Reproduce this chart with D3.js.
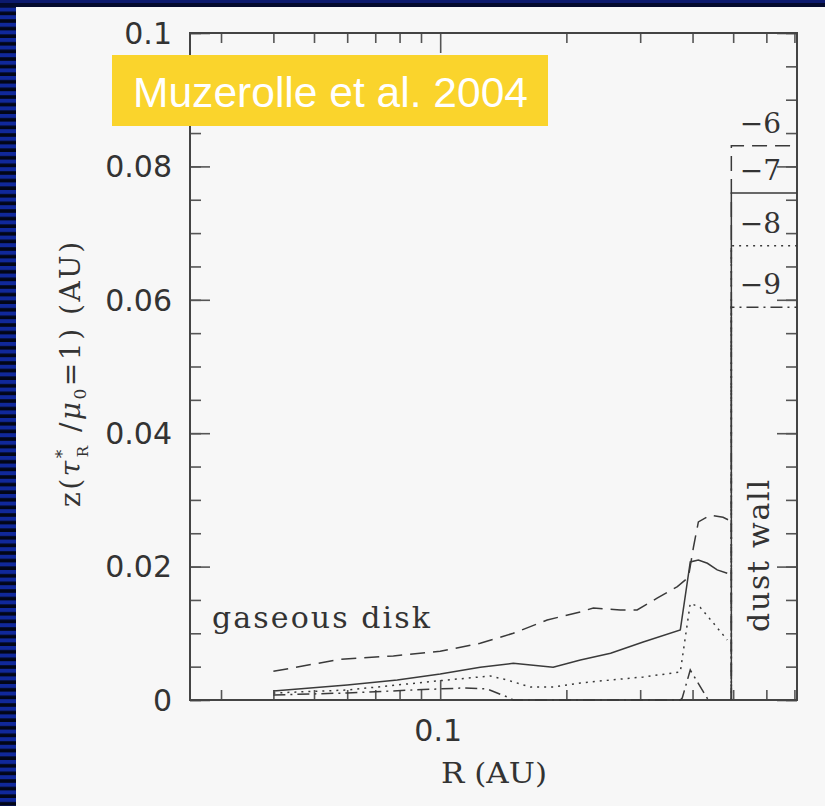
<!DOCTYPE html>
<html>
<head>
<meta charset="utf-8">
<script src="https://cdn.jsdelivr.net/npm/d3@7"></script>
<style>
  body { margin: 0; background: #f7f7f7; }
  svg { display: block; }
</style>
</head>
<body>
<svg id="chart"></svg>
<script>
// accretion rate labels (log Mdot) for each model
const models = ["\u22126", "\u22127", "\u22128", "\u22129"];
const dashes = ["15,8", null, "2,5", "12,5,2,5"];

// disk surface, one array of radii (AU) and heights (AU) per model
const r6 = [0.04, 0.0577, 0.0773, 0.1, 0.1246, 0.1494, 0.18, 0.216, 0.232, 0.269, 0.295, 0.33, 0.368, 0.391, 0.402, 0.413, 0.441, 0.473, 0.487];
const z6 = [0.0043, 0.0061, 0.0066, 0.0073, 0.0085, 0.0100, 0.0120, 0.0132, 0.0138, 0.0135, 0.0135, 0.0153, 0.0170, 0.0184, 0.0229, 0.0267, 0.0277, 0.0274, 0.0270];

const r7 = [0.04, 0.06, 0.079, 0.1, 0.1246, 0.1494, 0.186, 0.216, 0.255, 0.305, 0.374, 0.395, 0.413, 0.434, 0.458, 0.484];
const z7 = [0.00135, 0.00225, 0.0030, 0.0039, 0.0049, 0.0055, 0.0049, 0.0060, 0.0070, 0.0087, 0.0105, 0.0207, 0.0210, 0.0205, 0.0195, 0.0190];

const r8 = [0.04, 0.06, 0.1039, 0.1316, 0.1445, 0.164, 0.186, 0.216, 0.255, 0.305, 0.374, 0.395, 0.417, 0.449, 0.484];
const z8 = [0.00105, 0.0015, 0.0030, 0.0036, 0.0030, 0.00195, 0.00195, 0.00255, 0.0030, 0.00345, 0.0042, 0.0145, 0.0139, 0.0115, 0.0090];

const r9 = [0.04, 0.06, 0.0862, 0.1135, 0.1295, 0.1445, 0.1494, 0.374, 0.378, 0.395, 0.436];
const z9 = [0.00075, 0.00105, 0.0015, 0.0018, 0.00165, 0.00045, 0, 0, 0.0003, 0.0045, 0];

// dust wall
const rWall = 0.495;
const wallTop = [0.0831, 0.0760, 0.0681, 0.0589];

// ticks
const xMinor = [0.03, 0.04, 0.05, 0.06, 0.07, 0.08, 0.09, 0.2, 0.3, 0.4, 0.5, 0.6, 0.7];
const xMajor = [0.1];
const yMinor = d3.range(0, 0.1001, 0.005);
const yMajor = [0, 0.02, 0.04, 0.06, 0.08, 0.1];
const yLabels = ["0", "0.02", "0.04", "0.06", "0.08", "0.1"];

const W = 825, H = 806;
const mLeft = 190, mRight = 797, mTop = 33, mBottom = 700;

const svg = d3.select("#chart").attr("width", W).attr("height", H);

// page background + frame decoration
const defs = svg.append("defs");
const pat = defs.append("pattern").attr("id", "stripes")
  .attr("patternUnits", "userSpaceOnUse").attr("width", 16).attr("height", 7.6);
pat.append("rect").attr("width", 16).attr("height", 7.6).attr("fill", "#020618");
pat.append("rect").attr("width", 16).attr("height", 4).attr("fill", "#10289a");

svg.append("rect").attr("width", W).attr("height", H).attr("fill", "#f7f7f7");
svg.append("rect").attr("x", 0).attr("y", 0).attr("width", 16).attr("height", H).attr("fill", "url(#stripes)");
svg.append("rect").attr("x", 0).attr("y", 0).attr("width", W).attr("height", 7).attr("fill", "#030a2e");
svg.append("rect").attr("x", 0).attr("y", 0).attr("width", W).attr("height", 3).attr("fill", "#0c1a6e");

var x = d3.scaleLog().domain([0.0253, 0.71]).range([mLeft, mRight]);
var y = d3.scaleLinear().domain([0, 0.1]).range([mBottom, mTop]);

const ink = "#3a3a3a";

// ticks on all four sides, pointing inward
function tickAxis(axis, vals, len, tr) {
  const g = svg.append("g").attr("transform", tr)
    .call(axis.tickValues(vals).tickSize(-len).tickFormat(""));
  g.select(".domain").remove();
  g.selectAll("line").attr("stroke", "#555").attr("stroke-width", 1.6);
}
tickAxis(d3.axisBottom(x), xMinor, 10, `translate(0,${mBottom})`);
tickAxis(d3.axisBottom(x), xMajor, 20, `translate(0,${mBottom})`);
tickAxis(d3.axisTop(x), xMinor, 10, `translate(0,${mTop})`);
tickAxis(d3.axisTop(x), xMajor, 20, `translate(0,${mTop})`);
tickAxis(d3.axisLeft(y), yMinor, 11, `translate(${mLeft},0)`);
tickAxis(d3.axisLeft(y), yMajor, 20, `translate(${mLeft},0)`);
tickAxis(d3.axisRight(y), yMinor, 11, `translate(${mRight},0)`);
tickAxis(d3.axisRight(y), yMajor, 20, `translate(${mRight},0)`);

svg.append("rect")
  .attr("x", mLeft).attr("y", mTop)
  .attr("width", mRight - mLeft).attr("height", mBottom - mTop)
  .attr("fill", "none").attr("stroke", "#444").attr("stroke-width", 2);

// tick labels
svg.append("g").selectAll("text")
  .data(yMajor)
  .join("text")
  .attr("x", mLeft - 18)
  .attr("y", d => y(d))
  .attr("dy", "0.36em")
  .attr("text-anchor", "end")
  .attr("font-family", "DejaVu Sans")
  .attr("font-size", 30)
  .attr("fill", "#333")
  .text((d, i) => yLabels[i]);

svg.append("text")
  .attr("x", x(0.1) - 2).attr("y", 741)
  .attr("text-anchor", "middle")
  .attr("font-family", "DejaVu Sans").attr("font-size", 30).attr("fill", "#333")
  .text("0.1");

// axis titles
svg.append("text")
  .attr("x", 441).attr("y", 783)
  .attr("font-family", "DejaVu Serif").attr("font-size", 28).attr("fill", "#333")
  .attr("textLength", 106).attr("lengthAdjust", "spacingAndGlyphs")
  .text("R (AU)");

const yt = svg.append("text")
  .attr("transform", "translate(80,507) rotate(-90)")
  .attr("font-family", "DejaVu Serif").attr("font-size", 28).attr("fill", "#333")
  .attr("letter-spacing", 2.5);
yt.append("tspan").text("z(");
yt.append("tspan").attr("font-style", "italic").text("\u03c4");
yt.append("tspan").attr("font-size", 17).attr("dy", -12).text("*");
yt.append("tspan").attr("font-size", 15).attr("dx", -10).attr("dy", 20).text("R");
yt.append("tspan").attr("dy", -8).text(" /");
yt.append("tspan").attr("font-style", "italic").text("\u03bc");
yt.append("tspan").attr("font-size", 17).attr("dy", 6).text("0");
yt.append("tspan").attr("dy", -6).text("=1)  (AU)");

// disk surfaces
const rs = [r6, r7, r8, r9], zs = [z6, z7, z8, z9];
const line = d3.line().x(d => x(d[0])).y(d => y(d[1]));

models.forEach((m, i) => {
  const pts = rs[i].map((r, j) => [r, zs[i][j]]);
  svg.append("path")
    .attr("d", line(pts))
    .attr("fill", "none")
    .attr("stroke", ink)
    .attr("stroke-width", 1.5)
    .attr("stroke-dasharray", dashes[i]);
});

// dust wall for each model, drawn so the solid one sits on top
[0, 2, 3, 1].forEach(i => {
  const pts = [[rWall, 0], [rWall, wallTop[i]], [x.domain()[1], wallTop[i]]];
  svg.append("path")
    .attr("d", line(pts))
    .attr("fill", "none")
    .attr("stroke", ink)
    .attr("stroke-width", 1.5)
    .attr("stroke-dasharray", dashes[i]);
  svg.append("text")
    .attr("x", 781).attr("y", y(wallTop[i]) - 13)
    .attr("text-anchor", "end")
    .attr("font-family", "DejaVu Serif").attr("font-size", 28).attr("fill", "#333")
    .text(models[i]);
});

svg.append("text")
  .attr("x", 212).attr("y", 628)
  .attr("font-family", "DejaVu Serif").attr("font-size", 30).attr("fill", "#333")
  .attr("textLength", 218).attr("lengthAdjust", "spacing")
  .text("gaseous disk");

svg.append("text")
  .attr("transform", "translate(769,632) rotate(-90)")
  .attr("font-family", "DejaVu Serif").attr("font-size", 30).attr("fill", "#333")
  .attr("textLength", 152).attr("lengthAdjust", "spacing")
  .text("dust wall");

// source badge
svg.append("rect")
  .attr("x", 112).attr("y", 55).attr("width", 436).attr("height", 71)
  .attr("fill", "#fad42c");
svg.append("text")
  .attr("x", 133).attr("y", 107)
  .attr("font-family", "Liberation Sans, Arial, sans-serif")
  .attr("font-size", 42).attr("fill", "#ffffff")
  .attr("textLength", 395).attr("lengthAdjust", "spacingAndGlyphs")
  .text("Muzerolle et al. 2004");
</script>
</body>
</html>
